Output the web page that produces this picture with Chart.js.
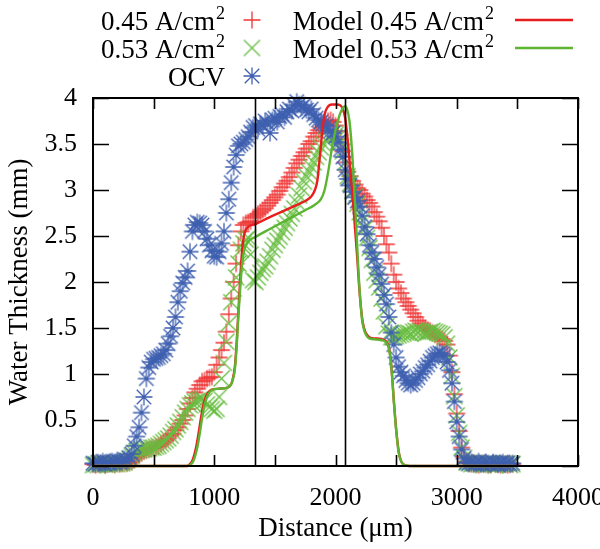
<!DOCTYPE html>
<html><head><meta charset="utf-8">
<script src="https://cdn.jsdelivr.net/npm/chart.js@4"></script>
<style>html,body{margin:0;padding:0;background:#fff;}#wrap{width:600px;height:549px;position:relative;}</style>
</head><body><div id="wrap"><canvas id="c" width="600" height="549"></canvas></div>
<script>
// ---- data (distance in micrometres, water thickness in mm) ----
const distanceUm = [
  0,20,40,60,80,100,120,140,160,180,
  200,220,240,260,280,300,320,340,360,380,
  400,420,440,460,480,500,520,540,560,580,
  600,620,640,660,680,700,720,740,760,780,
  800,820,840,860,880,900,920,940,960,980,
  1000,1020,1040,1060,1080,1100,1120,1140,1160,1180,
  1200,1220,1240,1260,1280,1300,1320,1340,1360,1380,
  1400,1420,1440,1460,1480,1500,1520,1540,1560,1580,
  1600,1620,1640,1660,1680,1700,1720,1740,1760,1780,
  1800,1820,1840,1860,1880,1900,1920,1940,1960,1980,
  2000,2020,2040,2060,2080,2100,2120,2140,2160,2180,
  2200,2220,2240,2260,2280,2300,2320,2340,2360,2380,
  2400,2420,2440,2460,2480,2500,2520,2540,2560,2580,
  2600,2620,2640,2660,2680,2700,2720,2740,2760,2780,
  2800,2820,2840,2860,2880,2900,2920,2940,2960,2980,
  3000,3020,3040,3060,3080,3100,3120,3140,3160,3180,
  3200,3220,3240,3260,3280,3300,3320,3340,3360,3380,
  3400,3420,3440,3460
];
const thick045 = [
  0.02,0.01,0.02,0.03,0.02,0.01,0.02,0.03,0.02,0.02,
  0.03,0.02,0.03,0.04,0.03,0.04,0.05,0.08,0.10,0.12,
  0.14,0.16,0.17,0.18,0.19,0.20,0.21,0.22,0.24,0.26,
  0.28,0.30,0.33,0.35,0.39,0.42,0.46,0.50,0.55,0.62,
  0.68,0.74,0.80,0.84,0.88,0.92,0.93,0.95,0.96,0.97,
  1.02,1.10,1.18,1.26,1.34,1.46,1.65,1.82,2.00,2.20,
  2.40,2.55,2.62,2.64,2.65,2.66,2.70,2.72,2.74,2.76,
  2.78,2.80,2.83,2.86,2.89,2.92,2.95,2.99,3.03,3.07,
  3.10,3.14,3.19,3.24,3.29,3.33,3.37,3.41,3.45,3.50,
  3.53,3.58,3.62,3.65,3.68,3.70,3.72,3.75,3.76,3.74,
  3.70,3.64,3.55,3.42,3.30,3.20,3.15,3.10,3.06,3.02,
  3.00,2.96,2.93,2.89,2.86,2.82,2.76,2.71,2.66,2.59,
  2.50,2.41,2.32,2.20,2.08,2.00,1.93,1.88,1.82,1.78,
  1.74,1.70,1.66,1.62,1.58,1.55,1.52,1.50,1.48,1.47,
  1.45,1.43,1.41,1.40,1.38,1.36,1.32,1.20,1.02,0.78,
  0.57,0.38,0.20,0.10,0.05,0.03,0.02,0.03,0.02,0.01,
  0.02,0.03,0.02,0.01,0.02,0.03,0.02,0.02,0.01,0.02,
  0.02,0.01,0.02,0.02
];
const thick053 = [
  0.01,0.02,0.01,0.02,0.03,0.02,0.01,0.02,0.03,0.02,
  0.02,0.03,0.03,0.04,0.06,0.08,0.11,0.14,0.16,0.17,
  0.18,0.18,0.19,0.19,0.20,0.20,0.21,0.22,0.24,0.26,
  0.28,0.30,0.33,0.37,0.40,0.44,0.48,0.53,0.58,0.62,
  0.66,0.68,0.70,0.71,0.72,0.73,0.71,0.67,0.64,0.62,
  0.60,0.62,0.75,0.95,1.12,1.35,1.55,1.78,1.93,2.05,
  2.20,2.35,2.42,2.46,2.48,2.30,2.02,2.00,2.05,2.10,
  2.14,2.17,2.22,2.28,2.35,2.40,2.45,2.49,2.54,2.59,
  2.64,2.69,2.74,2.80,2.87,2.94,3.02,3.09,3.15,3.20,
  3.25,3.30,3.36,3.41,3.46,3.50,3.54,3.57,3.60,3.62,
  3.60,3.57,3.52,3.42,3.30,3.15,3.07,2.99,2.93,2.85,
  2.76,2.67,2.58,2.48,2.37,2.24,2.10,2.02,1.94,1.82,
  1.68,1.52,1.44,1.40,1.40,1.41,1.42,1.43,1.44,1.45,
  1.45,1.44,1.46,1.47,1.46,1.47,1.45,1.44,1.45,1.46,
  1.47,1.46,1.45,1.44,1.43,1.40,1.33,1.18,0.98,0.76,
  0.55,0.36,0.20,0.09,0.04,0.03,0.02,0.03,0.02,0.03,
  0.02,0.01,0.03,0.02,0.03,0.02,0.01,0.02,0.03,0.02,
  0.02,0.03,0.01,0.02
];
const thickOCV = [
  0.03,0.02,0.04,0.03,0.05,0.02,0.04,0.03,0.05,0.04,
  0.06,0.04,0.05,0.07,0.06,0.09,0.13,0.22,0.32,0.42,
  0.58,0.75,0.95,1.07,1.13,1.16,1.17,1.18,1.20,1.22,
  1.26,1.33,1.41,1.50,1.62,1.78,1.90,1.99,2.05,2.12,
  2.33,2.55,2.62,2.65,2.64,2.62,2.55,2.47,2.40,2.34,
  2.28,2.27,2.33,2.42,2.55,2.75,2.90,3.08,3.25,3.38,
  3.48,3.50,3.52,3.55,3.58,3.63,3.68,3.70,3.66,3.72,
  3.70,3.75,3.72,3.62,3.76,3.78,3.74,3.80,3.82,3.79,
  3.85,3.88,3.86,3.92,3.96,3.93,3.90,3.92,3.87,3.85,
  3.88,3.82,3.78,3.76,3.74,3.72,3.70,3.66,3.64,3.62,
  3.58,3.52,3.44,3.36,3.22,3.12,3.05,2.98,2.92,2.88,
  2.82,2.72,2.60,2.52,2.40,2.32,2.25,2.16,2.08,1.98,
  1.86,1.76,1.62,1.45,1.32,1.18,1.08,1.02,0.98,0.93,
  0.90,0.88,0.90,0.93,0.96,1.00,1.03,1.07,1.10,1.14,
  1.18,1.20,1.22,1.23,1.22,1.20,1.13,1.04,0.90,0.70,
  0.48,0.32,0.18,0.08,0.04,0.03,0.04,0.02,0.03,0.05,
  0.03,0.02,0.04,0.03,0.02,0.04,0.03,0.02,0.03,0.04,
  0.02,0.03,0.02,0.03
];
const model045X = [0,770,790,820,850,870,890,910,930,950,980,1040,1100,1130,1150,1170,1185,1200,1215,1230,1250,1280,1340,1450,1550,1650,1750,1800,1830,1850,1870,1890,1910,1935,1970,2010,2040,2060,2080,2100,2120,2140,2160,2180,2195,2210,2225,2245,2270,2300,2380,2420,2440,2455,2468,2480,2493,2507,2522,2542,2570,2610,3470];
const model045Y = [0,0,0.01,0.06,0.2,0.35,0.52,0.66,0.75,0.8,0.83,0.84,0.85,0.87,0.93,1.08,1.35,1.7,2.05,2.35,2.53,2.6,2.63,2.7,2.76,2.82,2.88,2.93,3.0,3.1,3.35,3.62,3.82,3.9,3.93,3.93,3.92,3.88,3.78,3.55,3.25,2.95,2.6,2.25,1.95,1.72,1.56,1.46,1.41,1.39,1.38,1.35,1.29,1.16,0.96,0.73,0.51,0.31,0.15,0.05,0.01,0,0];
const model053X = [0,780,800,830,860,880,900,920,940,960,990,1040,1100,1130,1150,1170,1185,1200,1215,1230,1250,1280,1340,1450,1550,1650,1750,1830,1880,1910,1940,1970,2000,2030,2055,2078,2095,2115,2135,2155,2175,2190,2205,2220,2240,2265,2300,2380,2420,2440,2455,2468,2480,2493,2507,2522,2542,2570,2610,3470];
const model053Y = [0,0,0.01,0.06,0.2,0.35,0.52,0.66,0.75,0.8,0.83,0.84,0.85,0.87,0.92,1.05,1.3,1.65,1.95,2.2,2.36,2.44,2.49,2.57,2.64,2.71,2.78,2.84,2.9,3.0,3.2,3.45,3.65,3.8,3.88,3.91,3.88,3.75,3.45,3.0,2.5,2.1,1.8,1.58,1.46,1.4,1.38,1.37,1.34,1.28,1.15,0.95,0.72,0.5,0.3,0.14,0.05,0.01,0,0];
const guideLinesX = [1340, 2078];
const xTickValues = [0,500,1000,1500,2000,2500,3000,3500,4000];
const xTickLabels = ['0','','1000','','2000','','3000','','4000'];
const yTickValues = [0,0.5,1,1.5,2,2.5,3,3.5,4];
const yTickLabels = ['','0.5','1','1.5','2','2.5','3','3.5','4'];
const legendMain = ['0.45 A/cm','0.53 A/cm','OCV','Model 0.45 A/cm','Model 0.53 A/cm'];
const legendSup = ['2','2','','2','2'];

// ---- styles ----
const FONT = 'Liberation Serif';
const C_RED_PT = '#ef3535', C_GRN_PT = '#68bd40', C_BLU_PT = '#3f60b0';
const C_RED_LN = '#e81e1e', C_GRN_LN = '#5cb531';

function makeMarker(kind, half, color, lw) {
  const s = Math.ceil(half * 2 + 3);
  const c = document.createElement('canvas'); c.width = s; c.height = s;
  const g = c.getContext('2d'); g.strokeStyle = color; g.lineWidth = lw; const m = s / 2;
  g.beginPath();
  if (kind === 'plus' || kind === 'star') { g.moveTo(m - half, m); g.lineTo(m + half, m); g.moveTo(m, m - half); g.lineTo(m, m + half); }
  const d = kind === 'star' ? half * 0.85 : half;
  if (kind === 'cross' || kind === 'star') { g.moveTo(m - d, m - d); g.lineTo(m + d, m + d); g.moveTo(m - d, m + d); g.lineTo(m + d, m - d); }
  g.stroke(); return c;
}
const mkPlus = makeMarker('plus', 8.5, C_RED_PT, 1.3);
const mkCross = makeMarker('cross', 8, C_GRN_PT, 1.3);
const mkStar = makeMarker('star', 8.5, C_BLU_PT, 1.3);

const pts = (xs, ys) => xs.map((x, i) => ({ x: x, y: ys[i] }));

const overlay = {
  id: 'overlay',
  afterDatasetsDraw(chart) {
    const { ctx, chartArea: a, scales: { x, y } } = chart;
    ctx.save();
    ctx.strokeStyle = '#000';
    ctx.lineWidth = 1.6;
    ctx.beginPath();
    guideLinesX.forEach(v => { const px = Math.round(x.getPixelForValue(v)) + 0.5; ctx.moveTo(px, a.top); ctx.lineTo(px, a.bottom); });
    ctx.stroke();
    ctx.beginPath();
    xTickValues.forEach(v => {
      const px = Math.round(x.getPixelForValue(v)) + 0.5;
      ctx.moveTo(px, a.bottom); ctx.lineTo(px, a.bottom - 11);
      ctx.moveTo(px, a.top); ctx.lineTo(px, a.top + 11);
    });
    yTickValues.forEach(v => {
      const py = Math.round(y.getPixelForValue(v)) + 0.5;
      ctx.moveTo(a.left, py); ctx.lineTo(a.left + 16, py);
      ctx.moveTo(a.right, py); ctx.lineTo(a.right - 16, py);
    });
    ctx.stroke();
    ctx.lineWidth = 2;
    ctx.strokeRect(a.left, a.top, a.right - a.left, a.bottom - a.top);

    // legend
    const rows = [30, 58, 86];
    const drawEntry = (idx, rightX, base) => {
      ctx.fillStyle = '#000';
      ctx.textBaseline = 'alphabetic';
      ctx.font = '27px "' + FONT + '"';
      const w1 = ctx.measureText(legendMain[idx]).width;
      ctx.font = '18px "' + FONT + '"';
      const w2 = legendSup[idx] ? ctx.measureText(legendSup[idx]).width + 1 : 0;
      const start = rightX - w1 - w2;
      ctx.font = '27px "' + FONT + '"';
      ctx.textAlign = 'left';
      ctx.fillText(legendMain[idx], start, base);
      if (legendSup[idx]) { ctx.font = '18px "' + FONT + '"'; ctx.fillText(legendSup[idx], start + w1 + 1, base - 11); }
    };
    drawEntry(0, 225, rows[0]); drawEntry(1, 225, rows[1]); drawEntry(2, 225, rows[2]);
    drawEntry(3, 494, rows[0]); drawEntry(4, 494, rows[1]);
    const mk = [mkPlus, mkCross, mkStar];
    mk.forEach((m, i) => ctx.drawImage(m, 252 - m.width / 2, rows[i] - 10 - m.height / 2));
    ctx.lineWidth = 2.5;
    ctx.strokeStyle = C_RED_LN; ctx.beginPath(); ctx.moveTo(515, rows[0] - 10); ctx.lineTo(573, rows[0] - 10); ctx.stroke();
    ctx.strokeStyle = C_GRN_LN; ctx.beginPath(); ctx.moveTo(515, rows[1] - 10); ctx.lineTo(573, rows[1] - 10); ctx.stroke();
    ctx.restore();
  }
};

new Chart(document.getElementById('c'), {
  type: 'scatter',
  data: {
    datasets: [
      { label: 'Model 0.53 A/cm2', data: pts(model053X, model053Y), showLine: true, borderColor: C_GRN_LN, borderWidth: 2.4, pointRadius: 0, cubicInterpolationMode: 'monotone', order: 0, clip: false },
      { label: 'Model 0.45 A/cm2', data: pts(model045X, model045Y), showLine: true, borderColor: C_RED_LN, borderWidth: 2.4, pointRadius: 0, cubicInterpolationMode: 'monotone', order: 1, clip: false },
      { label: 'OCV', data: pts(distanceUm, thickOCV), pointStyle: mkStar, pointRadius: 8, order: 2, clip: false },
      { label: '0.53 A/cm2', data: pts(distanceUm, thick053), pointStyle: mkCross, pointRadius: 8, order: 3, clip: false },
      { label: '0.45 A/cm2', data: pts(distanceUm, thick045), pointStyle: mkPlus, pointRadius: 8, order: 4, clip: false }
    ]
  },
  options: {
    responsive: false, animation: false, devicePixelRatio: 1,
    layout: { padding: { top: 98, right: 22, left: 0, bottom: 0 } },
    plugins: { legend: { display: false }, tooltip: { enabled: false } },
    scales: {
      x: {
        type: 'linear', min: 0, max: 4000,
        grid: { display: false, drawTicks: false }, border: { display: false },
        afterBuildTicks: s => { s.ticks = xTickValues.map(v => ({ value: v })); },
        ticks: { autoSkip: false, maxRotation: 0, padding: 17, color: '#000', font: { family: FONT, size: 26 },
          callback: v => { const i = xTickValues.indexOf(v); return i >= 0 ? xTickLabels[i] : ''; } },
        title: { display: true, text: 'Distance (μm)', color: '#000', font: { family: FONT, size: 27 }, padding: { top: 0, bottom: 4 } },
        afterFit: s => { s.height = 83; s.paddingLeft = 0; s.paddingRight = 0; }
      },
      y: {
        type: 'linear', min: 0, max: 4,
        grid: { display: false, drawTicks: false }, border: { display: false },
        afterBuildTicks: s => { s.ticks = yTickValues.map(v => ({ value: v })); },
        ticks: { autoSkip: false, padding: 16, color: '#000', font: { family: FONT, size: 26 },
          callback: v => { const i = yTickValues.indexOf(v); return i >= 0 ? yTickLabels[i] : ''; } },
        title: { display: true, text: 'Water Thickness (mm)', color: '#000', font: { family: FONT, size: 27 }, padding: { top: 4, bottom: 0 } },
        afterFit: s => { s.width = 93; s.paddingTop = 0; s.paddingBottom = 0; }
      }
    }
  },
  plugins: [overlay]
});
</script></body></html>
